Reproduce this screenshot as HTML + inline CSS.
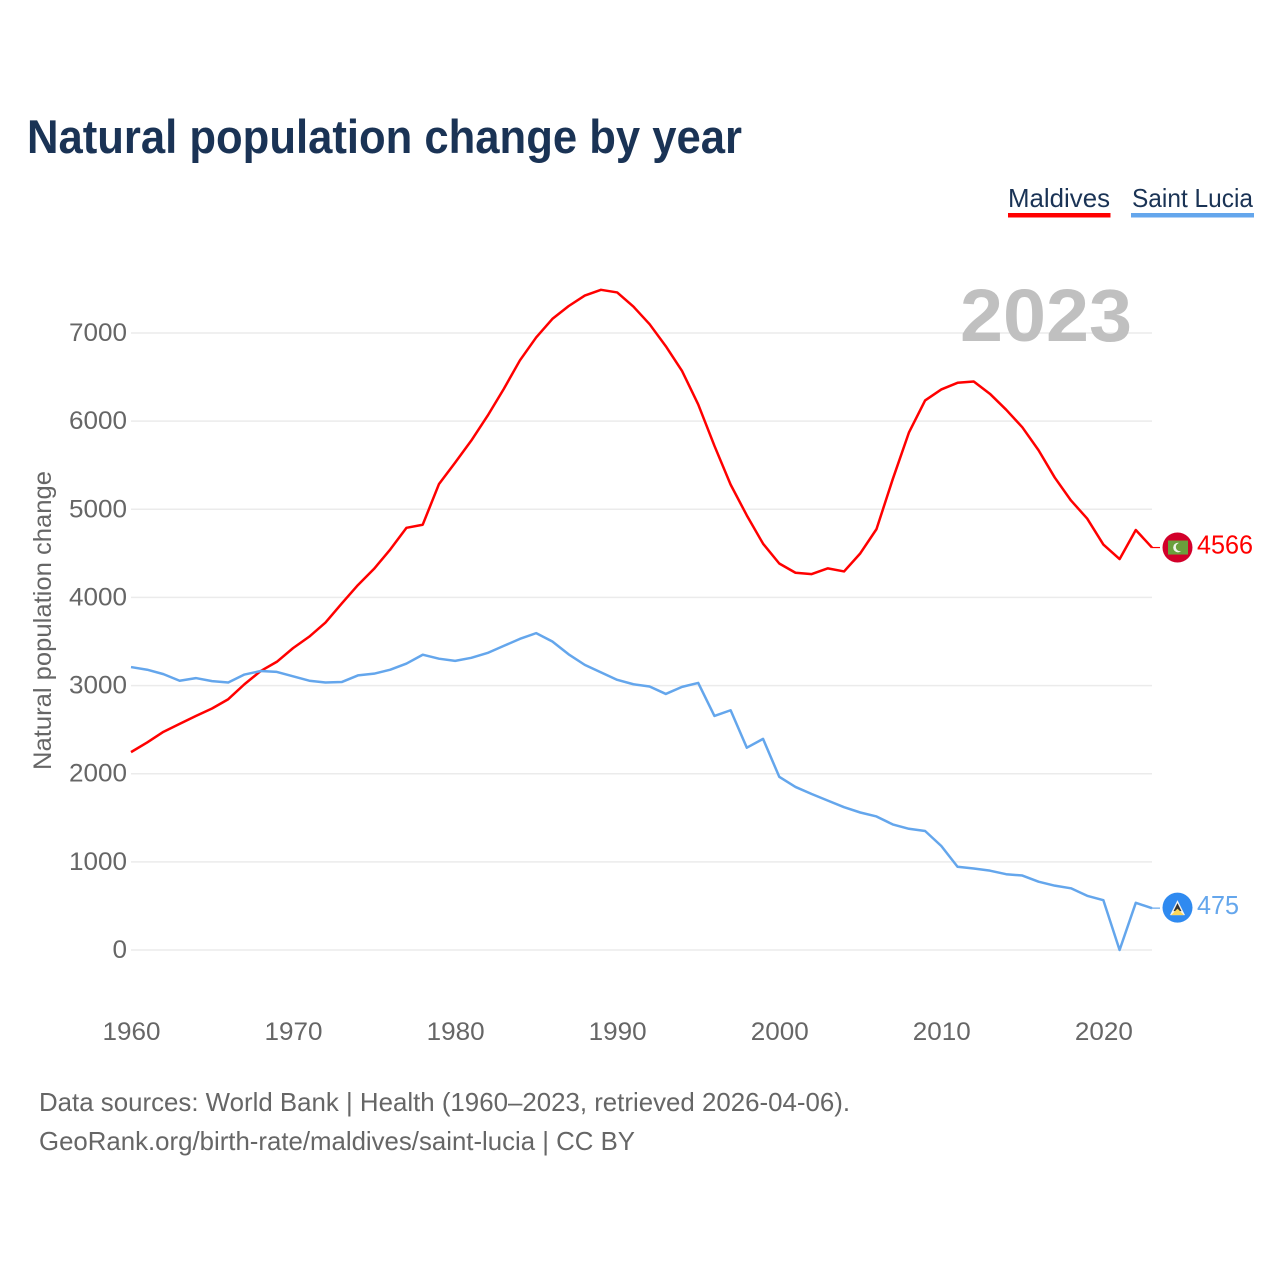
<!DOCTYPE html>
<html lang="en">
<head>
<meta charset="utf-8">
<title>Natural population change by year</title>
<style>
  html, body { margin: 0; padding: 0; background: #fff; }
  svg { display: block; font-family: "Liberation Sans", sans-serif; }
</style>
</head>
<body>
<svg id="chart" xmlns="http://www.w3.org/2000/svg" width="1280" height="1280" viewBox="0 0 1280 1280">
  <rect x="0" y="0" width="1280" height="1280" fill="#ffffff"/>
  <text x="27" y="153" font-size="47" font-weight="700" fill="#1a3355" textLength="715" lengthAdjust="spacingAndGlyphs">Natural population change by year</text>

  <g>
    <text x="1008" y="207" font-size="26" fill="#1a3355" textLength="102" lengthAdjust="spacingAndGlyphs">Maldives</text>
    <rect x="1008" y="213" width="102.500" height="4.500" fill="#ff0000"/>
  </g>
  <g>
    <text x="1132" y="207" font-size="26" fill="#1a3355" textLength="121" lengthAdjust="spacingAndGlyphs">Saint Lucia</text>
    <rect x="1131" y="213" width="123" height="4.500" fill="#64a6ec"/>
  </g>

  <text transform="translate(51,770) rotate(-90)" font-size="25" fill="#666666" textLength="299" lengthAdjust="spacingAndGlyphs">Natural population change</text>

  <g id="grid"></g>
  <g id="y-ticks"></g>
  <g id="x-ticks"></g>

  <text x="960" y="341" font-size="74" font-weight="700" fill="#c0c0c0" textLength="172" lengthAdjust="spacingAndGlyphs">2023</text>

  <g id="series"></g>
  <g id="end-markers"></g>

  <text x="39" y="1111" font-size="26" fill="#666666" textLength="811" lengthAdjust="spacingAndGlyphs">Data sources: World Bank | Health (1960–2023, retrieved 2026-04-06).</text>
  <text x="39" y="1150" font-size="26" fill="#666666" textLength="596" lengthAdjust="spacingAndGlyphs">GeoRank.org/birth-rate/maldives/saint-lucia | CC BY</text>
</svg>
<script>
const firstYear = 1960;
const lastYear = 2023;
const yTickValues = [0, 1000, 2000, 3000, 4000, 5000, 6000, 7000];
const xTickValues = [1960, 1970, 1980, 1990, 2000, 2010, 2020];
const maldivesValues = [2245, 2355, 2475, 2565, 2655, 2740, 2845, 3015, 3165, 3270,
  3425, 3555, 3715, 3930, 4140, 4325, 4545, 4790, 4825, 5285,
  5530, 5780, 6060, 6365, 6690, 6950, 7160, 7305, 7425, 7490,
  7460, 7300, 7100, 6850, 6570, 6190, 5720, 5280, 4930, 4610,
  4385, 4280, 4265, 4330, 4295, 4500, 4775, 5340, 5870, 6235,
  6360, 6435, 6450, 6310, 6130, 5930, 5670, 5360, 5100, 4895,
  4600, 4435, 4765, 4566];
const saintLuciaValues = [3210, 3180, 3130, 3055, 3085, 3050, 3035, 3125, 3165, 3155,
  3105, 3055, 3035, 3040, 3115, 3135, 3180, 3250, 3350, 3305,
  3280, 3315, 3370, 3450, 3530, 3595, 3500, 3355, 3235, 3150,
  3065, 3015, 2990, 2905, 2985, 3030, 2655, 2720, 2295, 2395,
  1965, 1850, 1770, 1695, 1620, 1560, 1515, 1425, 1375, 1350,
  1180, 945, 925, 900, 860, 845, 775, 730, 700, 615,
  565, 0, 535, 475];

const NS = 'http://www.w3.org/2000/svg';
function xScale(year) { return 131 + (year - firstYear) * (1152 - 131) / (lastYear - firstYear); }
function yScale(v) { return 950 - v * (950 - 333) / 7000; }
function make(tag, attrs, parent) {
  const el = document.createElementNS(NS, tag);
  for (const k in attrs) el.setAttribute(k, attrs[k]);
  parent.appendChild(el);
  return el;
}

const gridG = document.getElementById('grid');
const yTicksG = document.getElementById('y-ticks');
const xTicksG = document.getElementById('x-ticks');
const seriesG = document.getElementById('series');
const markersG = document.getElementById('end-markers');

yTickValues.forEach(function (v) {
  const line = make('line', { x1: 131, x2: 1152, y1: yScale(v), y2: yScale(v), stroke: '#ebebeb', 'stroke-width': 1.5 }, gridG);
  
  
  const label = make('text', { x: 127, y: yScale(v) + 8, 'text-anchor': 'end', 'font-size': 25, fill: '#666666', textLength: String(v).length * 14.500, lengthAdjust: 'spacingAndGlyphs' }, yTicksG);
  label.textContent = v;
  
  
});

xTickValues.forEach(function (year) {
  const label = make('text', { x: xScale(year) + 0.5, y: 1040, 'text-anchor': 'middle', 'font-size': 25, fill: '#666666', textLength: 58, lengthAdjust: 'spacingAndGlyphs' }, xTicksG);
  label.textContent = year;
  
  
});

function pointsFor(values) {
  return values.map(function (v, i) { return xScale(firstYear + i).toFixed(2) + ',' + yScale(v).toFixed(2); }).join(' ');
}

const maldivesLine = make('polyline', { points: pointsFor(maldivesValues), fill: 'none', stroke: '#ff0000', 'stroke-width': 2.500, 'stroke-linejoin': 'round' }, seriesG);



const saintLuciaLine = make('polyline', { points: pointsFor(saintLuciaValues), fill: 'none', stroke: '#64a6ec', 'stroke-width': 2.500, 'stroke-linejoin': 'round' }, seriesG);



/* Maldives end marker */
const mLast = maldivesValues[maldivesValues.length - 1];
const mY = yScale(mLast);
const mStub = make('line', { x1: 1152, x2: 1160, y1: mY, y2: mY, stroke: '#ff0000', 'stroke-width': 1.200 }, markersG);


const mDisc = make('circle', { cx: 1177.500, cy: mY, r: 15, fill: '#d2002a' }, markersG);


const mField = make('rect', { x: 1168, y: mY - 7, width: 20, height: 14, fill: '#6a9f3c' }, markersG);


const mMoon = make('circle', { cx: 1178, cy: mY, r: 4.800, fill: '#f0f4ea' }, markersG);


const mMoonCut = make('circle', { cx: 1180, cy: mY - 0.500, r: 4.200, fill: '#6a9f3c' }, markersG);


const mValue = make('text', { x: 1197, y: mY + 6, 'font-size': 26, fill: '#ff0000', textLength: 56, lengthAdjust: 'spacingAndGlyphs' }, markersG);
mValue.textContent = mLast;



/* Saint Lucia end marker */
const sLast = saintLuciaValues[saintLuciaValues.length - 1];
const sY = yScale(sLast);
const sStub = make('line', { x1: 1152, x2: 1160, y1: sY, y2: sY, stroke: '#64a6ec', 'stroke-width': 1.200 }, markersG);


const sDisc = make('circle', { cx: 1177.500, cy: sY - 0.5, r: 15, fill: '#2f8af0' }, markersG);


const sWhite = make('path', { d: 'M1177.500 ' + (sY - 8) + ' L1185 ' + (sY + 7) + ' L1170 ' + (sY + 7) + ' Z', fill: '#f4f4f4' }, markersG);


const sBlack = make('path', { d: 'M1177.500 ' + (sY - 5) + ' L1181.500 ' + (sY + 3) + ' L1173.500 ' + (sY + 3) + ' Z', fill: '#333333' }, markersG);


const sGold = make('path', { d: 'M1177.500 ' + (sY + 0.500) + ' L1184 ' + (sY + 7) + ' L1171 ' + (sY + 7) + ' Z', fill: '#fcd75a' }, markersG);


const sValue = make('text', { x: 1197, y: sY + 6, 'font-size': 26, fill: '#64a6ec', textLength: 42, lengthAdjust: 'spacingAndGlyphs' }, markersG);
sValue.textContent = sLast;


</script>
</body>
</html>
